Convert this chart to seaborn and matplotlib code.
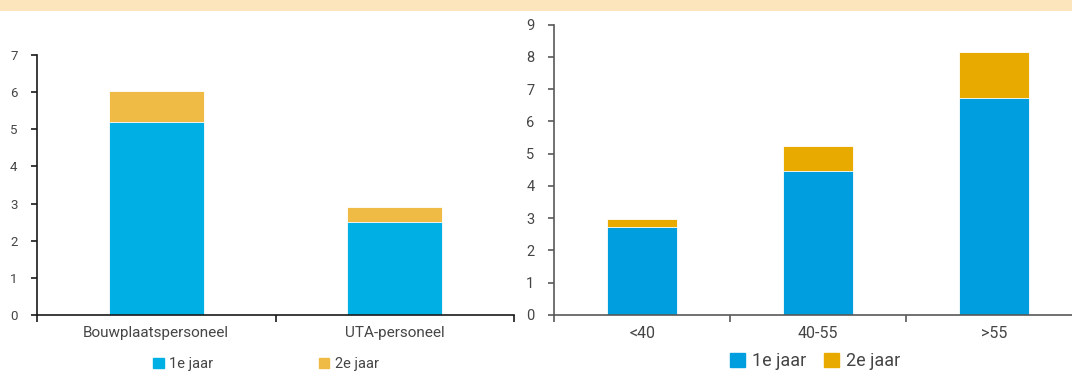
import matplotlib
matplotlib.use("Agg")
import matplotlib.pyplot as plt
import matplotlib.patches as mpatches
import pandas as pd
import seaborn as sns

# Data: left panel by staff type, right panel by age group
staff_types = ["Bouwplaatspersoneel", "UTA-personeel"]
staff_year1 = [5.19, 2.50]
staff_year2 = [0.84, 0.41]

age_groups = ["<40", "40-55", ">55"]
age_year1 = [2.74, 4.47, 6.73]
age_year2 = [0.24, 0.76, 1.42]

series_labels = ["1e jaar", "2e jaar"]

left_colors = ["#00B0E4", "#F0BB45"]
right_colors = ["#009EDF", "#E9AA00"]
text_color = "#454545"

sns.set_theme(style="white")
plt.rcParams["font.family"] = ["Roboto", "DejaVu Sans"]
plt.rcParams["text.color"] = text_color
plt.rcParams["xtick.color"] = text_color
plt.rcParams["ytick.color"] = text_color

fig = plt.figure(figsize=(10.72, 3.71), dpi=100)
fig.patch.set_facecolor("white")

# Light header band across the top
fig.add_artist(mpatches.Rectangle((0, 1 - 11 / 371), 1, 11 / 371,
                                  transform=fig.transFigure,
                                  facecolor="#FCE5BC", edgecolor="none"))


def stacked(ax, cats, y1, y2, colors, spine_color):
    df = pd.DataFrame({"cat": cats,
                       "total": [a + b for a, b in zip(y1, y2)],
                       "y1": y1})
    sns.barplot(data=df, x="cat", y="total", color=colors[1], width=0.4,
                saturation=1, ax=ax, edgecolor="white", linewidth=0.6)
    sns.barplot(data=df, x="cat", y="y1", color=colors[0], width=0.4,
                saturation=1, ax=ax, edgecolor="white", linewidth=0.6)
    n = len(cats)
    ax.set_xlim(-0.5, n - 0.5)
    ax.set_xlabel("")
    ax.set_ylabel("")
    for side in ["top", "right"]:
        ax.spines[side].set_visible(False)
    for side in ["left", "bottom"]:
        ax.spines[side].set_color(spine_color)
        ax.spines[side].set_linewidth(1.2)
    ax.set_xticks([i + 0.5 for i in range(-1, n)], minor=True)
    ax.tick_params(axis="x", which="major", length=0, pad=8)
    ax.tick_params(axis="x", which="minor", length=5, width=1.2,
                   color=spine_color, direction="out", bottom=True)
    ax.tick_params(axis="y", which="major", length=4, width=1.2,
                   color=spine_color, direction="out", left=True, pad=10)


# Left panel
ax1 = fig.add_axes([37 / 1072, 56 / 371, 477 / 1072, 260 / 371])
stacked(ax1, staff_types, staff_year1, staff_year2, left_colors, "#1a1a1a")
ax1.set_ylim(0, 7)
ax1.set_yticks(range(0, 8))
ax1.tick_params(axis="x", labelsize=11)
ax1.tick_params(axis="y", labelsize=9.5)

handles1 = [mpatches.Patch(color=c, label=l) for c, l in zip(left_colors, series_labels)]
ax1.legend(handles=handles1, loc="center", bbox_to_anchor=(0.48, -0.19),
           ncol=2, frameon=False, handlelength=0.7,
           handleheight=0.7, handletextpad=0.4, columnspacing=7.2,
           prop={"size": 10.5})

# Right panel
ax2 = fig.add_axes([554 / 1072, 56 / 371, 528 / 1072, 290.5 / 371])
stacked(ax2, age_groups, age_year1, age_year2, right_colors, "#595959")
ax2.set_ylim(0, 9)
ax2.set_yticks(range(0, 10))
ax2.tick_params(axis="x", labelsize=11.5)
ax2.tick_params(axis="y", labelsize=10.5)

handles2 = [mpatches.Patch(color=c, label=l) for c, l in zip(right_colors, series_labels)]
ax2.legend(handles=handles2, loc="center", bbox_to_anchor=(0.495, -0.16),
           ncol=2, frameon=False, handlelength=0.8, handleheight=0.8,
           handletextpad=0.4, columnspacing=1.0,
           prop={"size": 13})

fig.savefig("out.png", dpi=100, facecolor="white")
